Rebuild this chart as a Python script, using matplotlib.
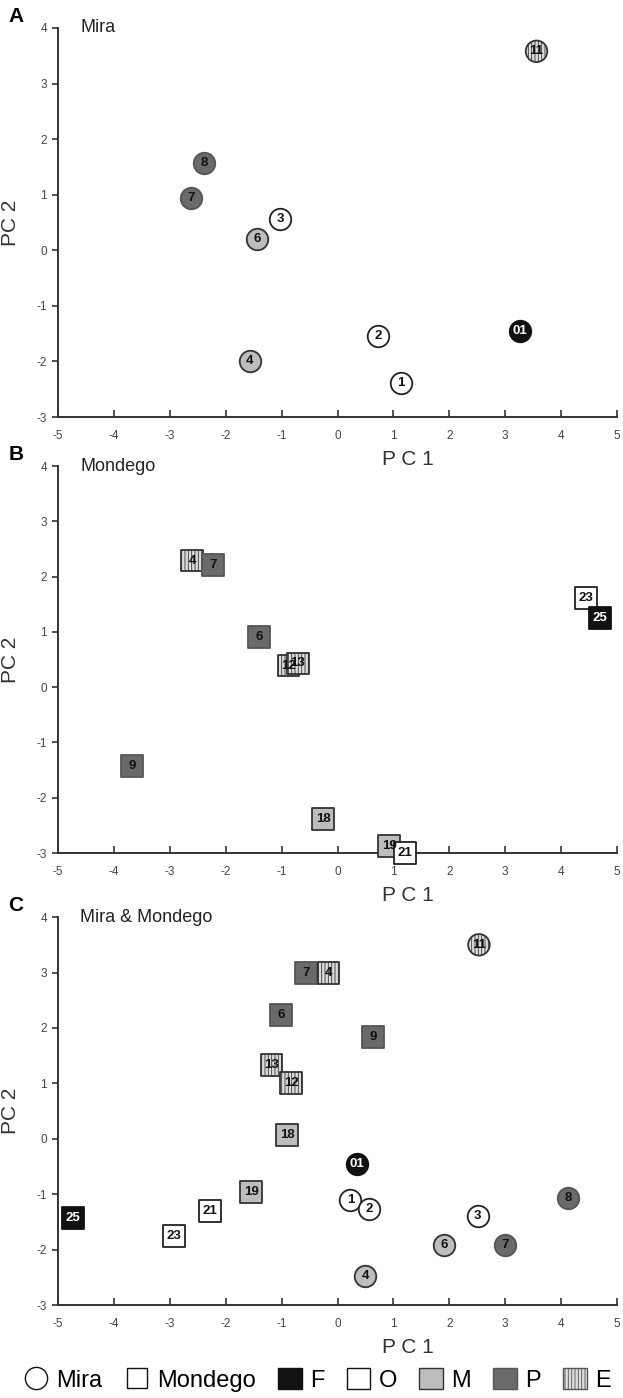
import matplotlib
matplotlib.use("Agg")
import matplotlib.pyplot as plt
from matplotlib.lines import Line2D
from matplotlib.patches import Patch

plt.rcParams['font.family'] = ['Liberation Sans', 'DejaVu Sans']
plt.rcParams['hatch.linewidth'] = 0.6
plt.rcParams['axes.unicode_minus'] = False

# --- data ---
# panel A: Mira (circles)
mira_labels = ['1', '2', '3', '4', '6', '7', '8', '11', '01']
mira_pc1 = [1.14, 0.73, -1.03, -1.57, -1.44, -2.62, -2.38, 3.56, 3.27]
mira_pc2 = [-2.39, -1.54, 0.57, -1.99, 0.20, 0.94, 1.57, 3.58, -1.46]
mira_group = ['O', 'O', 'O', 'M', 'M', 'P', 'P', 'E', 'F']

# panel B: Mondego (squares)
mond_labels = ['4', '7', '6', '12', '13', '9', '18', '19', '21', '23', '25']
mond_pc1 = [-2.60, -2.23, -1.41, -0.88, -0.71, -3.68, -0.26, 0.93, 1.20, 4.45, 4.70]
mond_pc2 = [2.29, 2.21, 0.90, 0.39, 0.43, -1.42, -2.39, -2.88, -3.00, 1.61, 1.25]
mond_group = ['E', 'P', 'P', 'E', 'E', 'P', 'M', 'M', 'O', 'O', 'F']

# panel C: both rivers
c_mira_labels = ['11', '01', '1', '2', '3', '8', '6', '7', '4']
c_mira_pc1 = [2.53, 0.34, 0.23, 0.57, 2.51, 4.13, 1.91, 3.00, 0.50]
c_mira_pc2 = [3.50, -0.46, -1.10, -1.27, -1.40, -1.07, -1.91, -1.92, -2.48]
c_mira_group = ['E', 'F', 'O', 'O', 'O', 'P', 'M', 'P', 'M']

c_mond_labels = ['7', '4', '6', '9', '13', '12', '18', '19', '21', '23', '25']
c_mond_pc1 = [-0.57, -0.16, -1.01, 0.64, -1.18, -0.83, -0.90, -1.54, -2.28, -2.93, -4.73]
c_mond_pc2 = [3.00, 2.99, 2.23, 1.84, 1.33, 1.01, 0.07, -0.96, -1.31, -1.76, -1.43]
c_mond_group = ['P', 'E', 'P', 'P', 'E', 'E', 'M', 'M', 'O', 'O', 'F']

xticks = [-5, -4, -3, -2, -1, 0, 1, 2, 3, 4, 5]
yticks = [-3, -2, -1, 0, 1, 2, 3, 4]

face = {'F': '#111111', 'O': '#ffffff', 'M': '#bdbdbd', 'P': '#6a6a6a', 'E': '#dcdcdc'}
edge = {'F': '#111111', 'O': '#222222', 'M': '#333333', 'P': '#555555', 'E': '#333333'}


def draw_points(ax, xs, ys, labels, groups, marker):
    for x, y, lab, g in zip(xs, ys, labels, groups):
        ax.scatter([x], [y], s=240, marker=marker, facecolor=face[g], edgecolor=edge[g],
                   linewidths=1.3, hatch='|||||' if g == 'E' else None, zorder=3, clip_on=False)
        ax.text(x, y, lab, ha='center', va='center', fontsize=9.5, fontweight='bold',
                color='white' if g == 'F' else '#111111', zorder=4, clip_on=False)


def style_axes(ax, letter, title):
    ax.set_xlim(-5, 5)
    ax.set_ylim(-3, 4)
    ax.set_xticks(xticks)
    ax.set_yticks(yticks)
    for s in ['top', 'right']:
        ax.spines[s].set_visible(False)
    for s in ['left', 'bottom']:
        ax.spines[s].set_linewidth(1.4)
        ax.spines[s].set_color('#333333')
    ax.tick_params(axis='x', direction='in', length=5, width=1.2, labelsize=8.5,
                   labelcolor='#444444', pad=9, color='#333333')
    ax.tick_params(axis='y', direction='out', length=4, width=1.2, labelsize=8.5,
                   labelcolor='#444444', pad=4, color='#333333')
    ax.set_xlabel('P C 1', fontsize=15, color='#333333')
    ax.xaxis.set_label_coords(0.625, -0.085)
    ax.set_ylabel('PC 2', fontsize=15, color='#333333')
    ax.yaxis.set_label_coords(-0.068, 0.5)
    ax.text(0.04, 1.0, title, transform=ax.transAxes, fontsize=13, color='#222222',
            ha='left', va='center')
    ax.text(-0.075, 1.03, letter, transform=ax.transAxes, fontsize=15, fontweight='bold',
            ha='center', va='center')


fig = plt.figure(figsize=(6.23, 13.98), dpi=100)
axA = fig.add_axes([0.0931, 0.7017, 0.8973, 0.2783])
axB = fig.add_axes([0.0931, 0.3898, 0.8973, 0.2768])
axC = fig.add_axes([0.0931, 0.0665, 0.8973, 0.2775])

draw_points(axA, mira_pc1, mira_pc2, mira_labels, mira_group, 'o')
style_axes(axA, 'A', 'Mira')

draw_points(axB, mond_pc1, mond_pc2, mond_labels, mond_group, 's')
style_axes(axB, 'B', 'Mondego')

draw_points(axC, c_mond_pc1, c_mond_pc2, c_mond_labels, c_mond_group, 's')
draw_points(axC, c_mira_pc1, c_mira_pc2, c_mira_labels, c_mira_group, 'o')
style_axes(axC, 'C', 'Mira & Mondego')

handles = [
    Line2D([], [], marker='o', ls='', markersize=16, markerfacecolor='white', markeredgecolor='#111111'),
    Line2D([], [], marker='s', ls='', markersize=15, markerfacecolor='white', markeredgecolor='#111111'),
    Patch(facecolor=face['F'], edgecolor='#111111'),
    Patch(facecolor=face['O'], edgecolor='#111111'),
    Patch(facecolor=face['M'], edgecolor='#333333'),
    Patch(facecolor=face['P'], edgecolor='#555555'),
    Patch(facecolor=face['E'], edgecolor='#555555', hatch='|||||'),
]
names = ['Mira', 'Mondego', 'F', 'O', 'M', 'P', 'E']
fig.legend(handles, names, loc='center', bbox_to_anchor=(0.51, 1 - 1380 / 1398), ncol=7,
           frameon=False, fontsize=17, handlelength=1.0, handleheight=1.0,
           handletextpad=0.35, columnspacing=0.95, borderaxespad=0)

fig.savefig('out.png', dpi=100)
